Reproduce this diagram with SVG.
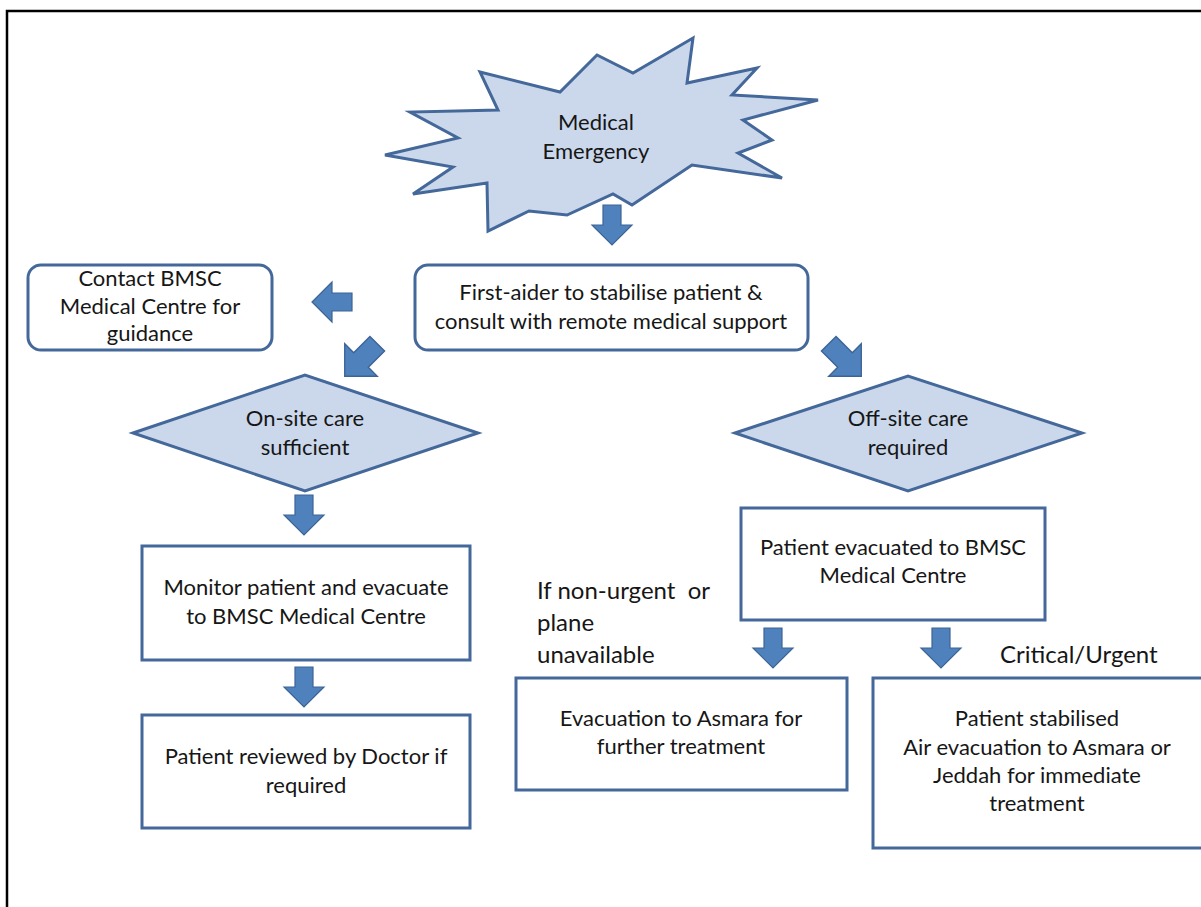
<svg xmlns="http://www.w3.org/2000/svg" xmlns:xlink="http://www.w3.org/1999/xlink" width="1201" height="907" viewBox="0 0 1201 907">
<style>
.frame{fill:none;stroke:#000;stroke-width:2.5}
.box{fill:#fff;stroke:#44689a;stroke-width:3}
.shape{fill:#cbd8ec;stroke:#44689a;stroke-width:3;stroke-linejoin:miter}
.arrow{fill:#4f81bd;stroke:#3c6495;stroke-width:1.2}
.t{font-family:Lato,"Open Sans","Liberation Sans",sans-serif;font-size:22px;fill:#161616;text-anchor:middle}
.lbl{font-family:Lato,"Open Sans","Liberation Sans",sans-serif;font-size:24px;fill:#161616;text-anchor:start}
</style>
<defs>
<path id="darrow" d="M -9,-20 H 9 V 0 H 20 L 0,20 L -20,0 H -9 Z"/>
</defs>
<rect width="1201" height="907" fill="#fff"/>
<path class="frame" d="M 7,1000 V 11 H 1300"/>

<g id="connectors">
<use href="#darrow" class="arrow" transform="translate(612,225)"/>
<use href="#darrow" class="arrow" transform="translate(332,302) rotate(90)"/>
<use href="#darrow" class="arrow" transform="translate(361,360) rotate(45) scale(1.15)"/>
<use href="#darrow" class="arrow" transform="translate(845,360) rotate(-45) scale(1.15)"/>
<use href="#darrow" class="arrow" transform="translate(304,515)"/>
<use href="#darrow" class="arrow" transform="translate(304,687)"/>
<use href="#darrow" class="arrow" transform="translate(773,648)"/>
<use href="#darrow" class="arrow" transform="translate(941,648)"/>
</g>

<g id="medical-emergency">
<polygon class="shape" points="385,155 458,138 410,112 498,110 480,72 560,92 597,55 633,73 693,38 687,83 757,68 732,95 818,100 743,120 772,140 738,153 782,178 692,165 632,205 613,194 567,215 529,211 488,231 487,183 413,194 453,167"/>
<text class="t" x="596" y="130">Medical</text>
<text class="t" x="596" y="159">Emergency</text>
</g>

<g id="contact-bmsc">
<rect class="box" x="28" y="265" width="244" height="85" rx="13"/>
<text class="t" x="150" y="286">Contact BMSC</text>
<text class="t" x="150" y="314">Medical Centre for</text>
<text class="t" x="150" y="341">guidance</text>
</g>

<g id="first-aider">
<rect class="box" x="415" y="265" width="393" height="85" rx="13"/>
<text class="t" x="611" y="300">First-aider to stabilise patient &amp;</text>
<text class="t" x="611" y="329">consult with remote medical support</text>
</g>

<g id="onsite">
<polygon class="shape" points="133,433 305,375 478,433 305,491"/>
<text class="t" x="305" y="426">On-site care</text>
<text class="t" x="305" y="455">sufficient</text>
</g>

<g id="offsite">
<polygon class="shape" points="735,433 908,376 1082,433 908,491"/>
<text class="t" x="908" y="426">Off-site care</text>
<text class="t" x="908" y="455">required</text>
</g>

<g id="monitor">
<rect class="box" x="142" y="546" width="328" height="114"/>
<text class="t" x="306" y="595">Monitor patient and evacuate</text>
<text class="t" x="306" y="624">to BMSC Medical Centre</text>
</g>

<g id="reviewed">
<rect class="box" x="142" y="715" width="328" height="113"/>
<text class="t" x="306" y="764">Patient reviewed by Doctor if</text>
<text class="t" x="306" y="793">required</text>
</g>

<g id="evacuated">
<rect class="box" x="741" y="508" width="304" height="112"/>
<text class="t" x="893" y="555">Patient evacuated to BMSC</text>
<text class="t" x="893" y="583">Medical Centre</text>
</g>

<g id="label-nonurgent">
<text class="lbl" x="537" y="599" xml:space="preserve">If non-urgent  or</text>
<text class="lbl" x="537" y="631">plane</text>
<text class="lbl" x="537" y="663">unavailable</text>
</g>

<g id="label-critical">
<text class="lbl" x="1000" y="663">Critical/Urgent</text>
</g>

<g id="evac-asmara">
<rect class="box" x="516" y="678" width="331" height="112"/>
<text class="t" x="681" y="726">Evacuation to Asmara for</text>
<text class="t" x="681" y="754">further treatment</text>
</g>

<g id="stabilised">
<rect class="box" x="873" y="678" width="340" height="170"/>
<text class="t" x="1037" y="726">Patient stabilised</text>
<text class="t" x="1037" y="755">Air evacuation to Asmara or</text>
<text class="t" x="1037" y="783">Jeddah for immediate</text>
<text class="t" x="1037" y="811">treatment</text>
</g>
</svg>
